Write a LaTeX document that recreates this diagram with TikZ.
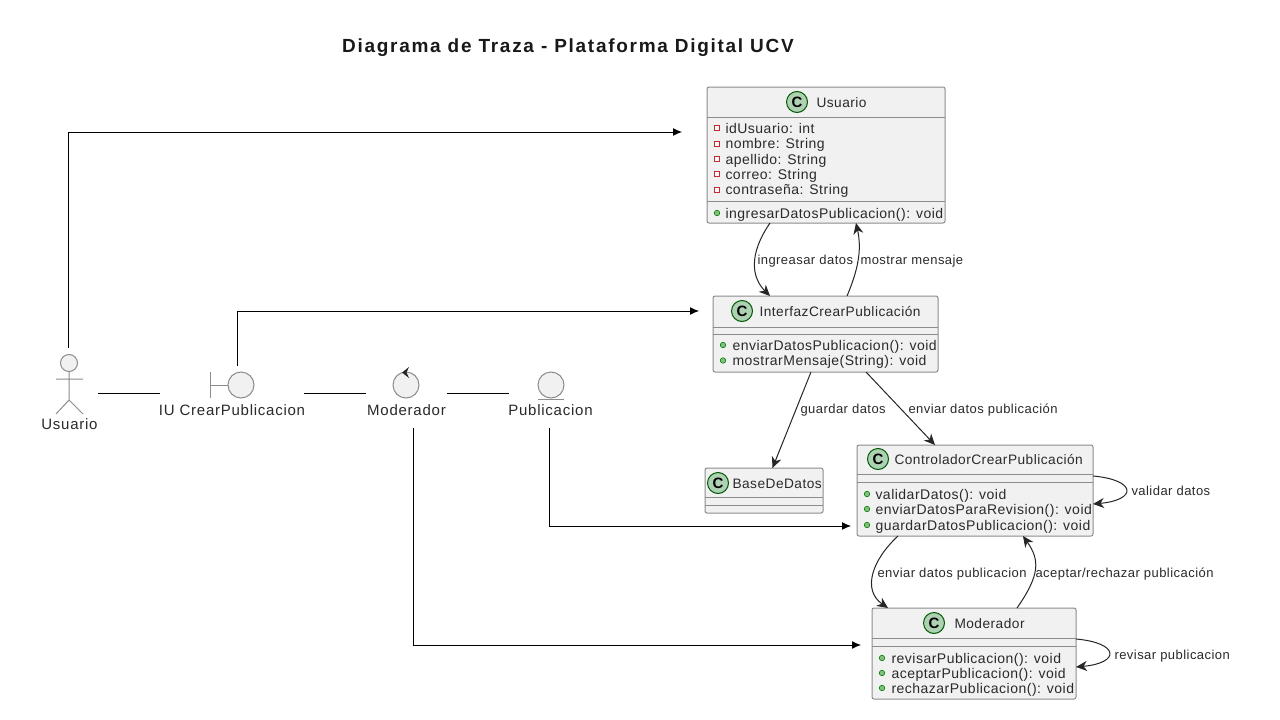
\documentclass[tikz,border=0pt]{standalone}
\usepackage{fontspec}
\setmainfont{Liberation Sans}
\newfontfamily\fuenteesp[LetterSpace=3.5]{Liberation Sans}
\newfontfamily\fuentefig[LetterSpace=5]{Liberation Sans}
\newfontfamily\fuentetit[LetterSpace=9]{Liberation Sans}
\usetikzlibrary{positioning, calc}
\usetikzlibrary{arrows, arrows.meta}
\colorlet{mygrid}{black!45}
\definecolor{myfill}{HTML}{F1F1F1}
\definecolor{mytext}{HTML}{2A2A2A}
\definecolor{mygreen}{HTML}{ADD1B2}
\definecolor{myred}{HTML}{C82930}
\definecolor{mypub}{HTML}{84BE84}

\begin{document}
\begin{tikzpicture}[x=1pt,y=-1pt,line width=1pt,
    font=\fuenteesp\fontsize{14}{14}\selectfont,text=mytext]
  \tikzstyle{clase}=[rectangle,draw=mygrid,fill=myfill,rounded corners=2pt,inner sep=0pt,outer sep=0pt]
  \tikzstyle{icono}=[circle,draw=black!65!green,fill=mygreen,minimum size=21pt,inner sep=0pt,font=\bfseries\fontsize{15}{15}\selectfont,text=black]
  \tikzstyle{texto}=[inner sep=0pt,text height=13.5pt,text depth=3pt]
  \tikzstyle{miembro}=[texto,anchor=west]
  \tikzstyle{nombre}=[miembro,font=\fuenteesp\fontsize{13.7}{14}\selectfont]
  \tikzstyle{relacion}=[miembro,font=\fuenteesp\fontsize{13}{14}\selectfont]
  \tikzstyle{rotulo}=[texto,font=\fuentefig\fontsize{15}{15}\selectfont]
  \tikzstyle{figura}=[inner sep=0pt,outer sep=0pt,minimum width=0pt]
  \tikzstyle{forma}=[draw=mygrid,fill=myfill]
  \tikzstyle{priv}=[rectangle,draw=myred,fill=white,minimum size=5pt,inner sep=0pt,line width=0.7pt]
  \tikzstyle{pub}=[circle,draw=black!50!green,fill=mypub,minimum size=5.5pt,inner sep=0pt,line width=0.6pt]
  \tikzstyle{recto}=[draw=black,line width=1pt,-{Latex[length=9pt,width=8pt]}]
  \tikzstyle{flujo}=[draw=black!85,line width=1pt,-{Stealth[length=11pt,width=10pt,inset=3.5pt]}]
  \tikzstyle{union}=[draw=black,line width=1pt]

  \useasboundingbox (0,0) rectangle (1280,720);
  \fill[white] (0,0) rectangle (1280,720);

  \node[texto,text height=16pt,font=\fuentetit\bfseries\fontsize{19}{19}\selectfont,text=black!90] (titulo) at (568,46) {Diagrama de Traza - Plataforma Digital UCV};

  % classes
  \node[clase,minimum width=238pt,minimum height=136pt] (cUsuario) at (826,155) {};
  \draw[mygrid] (cUsuario.west |- 0,117) -- (cUsuario.east |- 0,117);
  \draw[mygrid] (cUsuario.west |- 0,201) -- (cUsuario.east |- 0,201);
  \node[icono] (iUsuario) at (797,102) {C};
  \node[nombre] (nUsuario) at (816,102) {Usuario};
  \foreach \y/\t in {128/idUsuario: int,143.5/nombre: String,159/apellido: String,174/correo: String,189.5/contraseña: String} {
    \node[priv] at (717,\y) {};
    \node[miembro] at (725,\y) {\t};
  }
  \node[pub] at (717,213) {};
  \node[miembro] at (725,213) {ingresarDatosPublicacion(): void};

  \node[clase,minimum width=225pt,minimum height=76pt] (cInterfaz) at (825.5,334) {};
  \draw[mygrid] (cInterfaz.west |- 0,327) -- (cInterfaz.east |- 0,327);
  \draw[mygrid] (cInterfaz.west |- 0,334) -- (cInterfaz.east |- 0,334);
  \node[icono] (iInterfaz) at (742,311) {C};
  \node[nombre] (nInterfaz) at (759,311) {InterfazCrearPublicación};
  \foreach \y/\t in {345/enviarDatosPublicacion(): void,360.5/mostrarMensaje(String): void} {
    \node[pub] at (723,\y) {};
    \node[miembro] at (732,\y) {\t};
  }

  \node[clase,minimum width=118pt,minimum height=45pt] (cBase) at (764,490.5) {};
  \draw[mygrid] (cBase.west |- 0,497) -- (cBase.east |- 0,497);
  \draw[mygrid] (cBase.west |- 0,505) -- (cBase.east |- 0,505);
  \node[icono] (iBase) at (718,483) {C};
  \node[nombre] (nBase) at (732,483) {BaseDeDatos};

  \node[clase,minimum width=236pt,minimum height=91pt] (cControlador) at (975,490.5) {};
  \draw[mygrid] (cControlador.west |- 0,474) -- (cControlador.east |- 0,474);
  \draw[mygrid] (cControlador.west |- 0,482) -- (cControlador.east |- 0,482);
  \node[icono] (iControlador) at (878,459) {C};
  \node[nombre] (nControlador) at (894,459) {ControladorCrearPublicación};
  \foreach \y/\t in {494/validarDatos(): void,509/enviarDatosParaRevision(): void,525/guardarDatosPublicacion(): void} {
    \node[pub] at (867,\y) {};
    \node[miembro] at (875,\y) {\t};
  }

  \node[clase,minimum width=204pt,minimum height=91pt] (cModerador) at (974,653.5) {};
  \draw[mygrid] (cModerador.west |- 0,638) -- (cModerador.east |- 0,638);
  \draw[mygrid] (cModerador.west |- 0,646) -- (cModerador.east |- 0,646);
  \node[icono] (iModerador) at (934,623) {C};
  \node[nombre] (nModerador) at (954,623) {Moderador};
  \foreach \y/\t in {658/revisarPublicacion(): void,673/aceptarPublicacion(): void,688/rechazarPublicacion(): void} {
    \node[pub] at (882,\y) {};
    \node[miembro] at (891,\y) {\t};
  }

  % robustness elements
  \node[figura,minimum width=57pt,minimum height=90pt] (usuario) at (69.5,393) {};
  \node[figura,minimum width=144pt,minimum height=54pt] (iu) at (232,393) {};
  \node[figura,minimum width=81pt,minimum height=70pt] (moderador) at (406.5,393) {};
  \node[figura,minimum width=83pt,minimum height=70pt] (publicacion) at (550.5,393) {};

  \draw[forma] (69,363) circle (8.5);
  \draw[mygrid] (69,371.5) -- (69,400) (56,379) -- (83,379) (56,414) -- (69,400) -- (83,414);
  \node[rotulo] (tUsuario) at (69.5,424) {Usuario};

  \draw[mygrid] (210,372) -- (210,398) (210,385) -- (228,385);
  \draw[forma] (241,385) circle (13);
  \node[rotulo] (tIu) at (232,410) {IU CrearPublicacion};

  \draw[forma] (406,385) circle (13);
  \fill[black!85] (409,367) -- (402,372.5) -- (409,378) -- (406.5,372.5) -- cycle;
  \node[rotulo] (tModerador) at (406.5,410) {Moderador};

  \draw[forma] (551,385) circle (13);
  \draw[mygrid] (538,399.5) -- (564,399.5);
  \node[rotulo] (tPublicacion) at (550.5,410) {Publicacion};

  \draw[union] (usuario) -- (iu);
  \draw[union] (iu) -- (moderador);
  \draw[union] (moderador) -- (publicacion);

  \draw[recto,shorten >=25pt] ([xshift=-1pt]usuario.north) |- (cUsuario.west |- 0,132);
  \draw[recto,shorten >=14pt] ([xshift=5pt]iu.north) |- (cInterfaz.west |- 0,311);
  \draw[recto,shorten >=6pt] ([xshift=-1pt]publicacion.south) |- (cControlador.west |- 0,526);
  \draw[recto,shorten >=11pt] ([xshift=6.5pt]moderador.south) |- (cModerador.west |- 0,645);

  % class relations
  \draw[flujo] ([xshift=-56pt]cUsuario.south) .. controls (748,255) and (752,278) .. ([xshift=-55.5pt]cInterfaz.north);
  \draw[flujo] ([xshift=21.5pt]cInterfaz.north) .. controls (858,270) and (862,250) .. ([xshift=30pt]cUsuario.south);
  \draw[flujo] ([xshift=-14.5pt]cInterfaz.south) -- ([xshift=8.5pt]cBase.north);
  \draw[flujo] ([xshift=40.5pt]cInterfaz.south) -- ([xshift=-40pt]cControlador.north);
  \draw[flujo] ([xshift=-77pt]cControlador.south) .. controls (872,560) and (862,590) .. ([xshift=-86pt]cModerador.north);
  \draw[flujo] ([xshift=43pt]cModerador.north) .. controls (1040,575) and (1040,560) .. ([xshift=48pt]cControlador.south);
  \draw[flujo] (cControlador.east |- 0,476) .. controls (1137,480) and (1137,500) .. (cControlador.east |- 0,504);
  \draw[flujo] (cModerador.east |- 0,639) .. controls (1120,643) and (1120,663) .. (cModerador.east |- 0,667);

  % relation labels
  \node[relacion] (l1) at (757,259) {ingreasar datos};
  \node[relacion] (l2) at (860,259) {mostrar mensaje};
  \node[relacion] (l3) at (800,408) {guardar datos};
  \node[relacion] (l4) at (908,408) {enviar datos publicación};
  \node[relacion] (l5) at (1131,490) {validar datos};
  \node[relacion] (l6) at (877,572) {enviar datos publicacion};
  \node[relacion] (l7) at (1035,572) {aceptar/rechazar publicación};
  \node[relacion] (l8) at (1114,654) {revisar publicacion};
\end{tikzpicture}
\end{document}
